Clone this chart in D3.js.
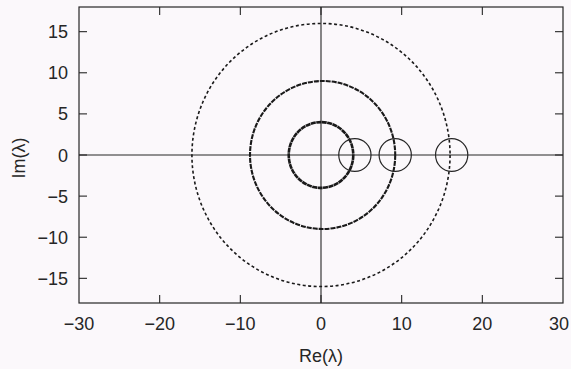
<!DOCTYPE html>
<html>
<head>
<meta charset="utf-8">
<script src="https://cdn.jsdelivr.net/npm/d3@7"></script>
<style>
  body { margin: 0; background: #fbf8fb; }
  svg { display: block; font-family: "Liberation Sans", Arial, sans-serif; }
</style>
</head>
<body>
<svg id="chart" width="571" height="369"></svg>
<script>
// axes
const xTicks = [-30, -20, -10, 0, 10, 20, 30];
const yTicks = [-15, -10, -5, 0, 5, 10, 15];

// eigenvalue rings (centre re, radius, style)
const ringRe = [0, 0.2, 0];
const ringR = [4, 9, 16];
const ringWidth = [2.6, 2.1, 1.6];
const ringDash = ["5 0.5", "5 1", "3 2.5"];

// small discs on the real axis
const discRe = [4.2, 9.2, 16.2];
const discR = [2, 2, 2];

const svg = d3.select('#chart');
const plotL = 79, plotR = 563, plotT = 7, plotB = 303;

let x = d3.scaleLinear().domain([-30, 30]).range([plotL, plotR]);
let y = d3.scaleLinear().domain([-18, 18]).range([plotB, plotT]);

const ink = '#262626';
const tickLen = 8;

// frame
svg.append('rect')
  .attr('x', plotL).attr('y', plotT)
  .attr('width', plotR - plotL).attr('height', plotB - plotT)
  .attr('fill', 'none').attr('stroke', ink).attr('stroke-width', 1.2);

// axes through origin
svg.append('line')
  .attr('x1', plotL).attr('x2', plotR)
  .attr('y1', y(0)).attr('y2', y(0))
  .attr('stroke', ink).attr('stroke-width', 1.1);
svg.append('line')
  .attr('x1', x(0)).attr('x2', x(0))
  .attr('y1', plotT).attr('y2', plotB)
  .attr('stroke', ink).attr('stroke-width', 1.1);

// inward ticks, all four sides
let g = svg.append('g').attr('stroke', ink).attr('stroke-width', 1.1);
xTicks.slice(1, -1).forEach(function(t) {
  g.append('line').attr('x1', x(t)).attr('x2', x(t)).attr('y1', plotB).attr('y2', plotB - tickLen);
  g.append('line').attr('x1', x(t)).attr('x2', x(t)).attr('y1', plotT).attr('y2', plotT + tickLen);
});
yTicks.forEach(function(t) {
  g.append('line').attr('x1', plotL).attr('x2', plotL + tickLen).attr('y1', y(t)).attr('y2', y(t));
  g.append('line').attr('x1', plotR).attr('x2', plotR - tickLen).attr('y1', y(t)).attr('y2', y(t));
});

const fmt = function(v) { return v < 0 ? '\u2212' + Math.abs(v) : '' + v; };

// tick labels (last one pulled in so it stays on the page)
svg.append('g').selectAll('text').data(xTicks).enter().append('text')
  .attr('x', function(d) { return Math.min(x(d), 571 - 12); })
  .attr('y', 330)
  .attr('text-anchor', 'middle')
  .attr('font-size', 18)
  .attr('fill', ink)
  .text(fmt);

svg.append('g').selectAll('text').data(yTicks).enter().append('text')
  .attr('x', 68)
  .attr('y', function(d) { return y(d) + 6.5; })
  .attr('text-anchor', 'end')
  .attr('font-size', 18)
  .attr('fill', ink)
  .text(fmt);

// axis titles
svg.append('text')
  .attr('x', x(0)).attr('y', 362)
  .attr('text-anchor', 'middle')
  .attr('font-size', 18).attr('fill', ink)
  .text('Re(\u03bb)');
svg.append('text')
  .attr('transform', 'translate(25,158) rotate(-90)')
  .attr('text-anchor', 'middle')
  .attr('font-size', 18).attr('fill', ink)
  .text('Im(\u03bb)');

// rings of eigenvalues
ringR.forEach(function(r, i) {
  svg.append('ellipse')
    .attr('cx', x(ringRe[i])).attr('cy', y(0))
    .attr('rx', x(r) - x(0)).attr('ry', y(0) - y(r))
    .attr('fill', 'none')
    .attr('stroke', '#1a1a1a')
    .attr('stroke-width', ringWidth[i])
    .attr('stroke-dasharray', ringDash[i]);
});

// discs
discRe.forEach(function(c, i) {
  svg.append('ellipse')
    .attr('cx', x(c)).attr('cy', y(0))
    .attr('rx', x(discR[i]) - x(0)).attr('ry', y(0) - y(discR[i]))
    .attr('fill', 'none')
    .attr('stroke', ink)
    .attr('stroke-width', 1.2);
});
</script>
</body>
</html>
